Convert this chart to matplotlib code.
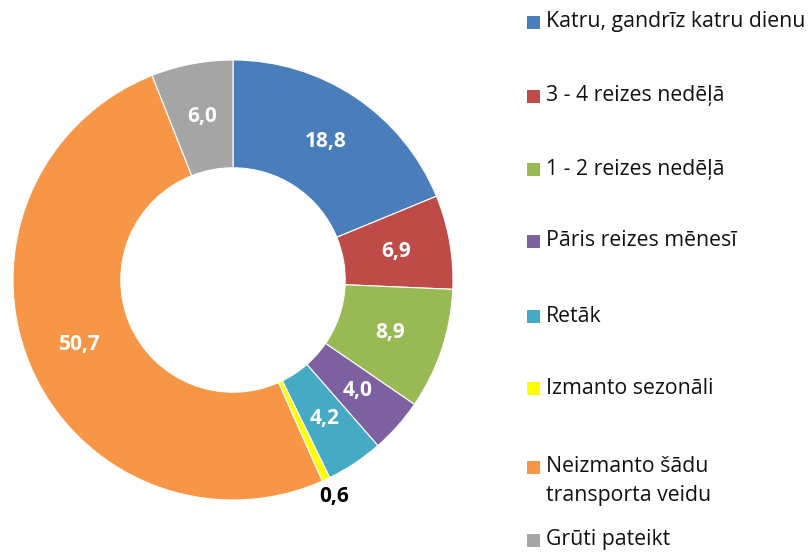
import matplotlib
matplotlib.use("Agg")
import matplotlib.pyplot as plt
from matplotlib.patches import Rectangle
import numpy as np

plt.rcParams['font.family'] = ['Open Sans', 'DejaVu Sans']

categories = ["Katru, gandrīz katru dienu", "3 - 4 reizes nedēļā", "1 - 2 reizes nedēļā",
              "Pāris reizes mēnesī", "Retāk", "Izmanto sezonāli",
              "Neizmanto šādu\ntransporta veidu", "Grūti pateikt"]
values = [18.8, 6.9, 8.9, 4.0, 4.2, 0.6, 50.7, 6.0]
value_labels = ["18,8", "6,9", "8,9", "4,0", "4,2", "0,6", "50,7", "6,0"]
colors = ["#4A7EBB", "#BE4B48", "#98B954", "#7D60A0", "#46AAC5", "#FFFF00", "#F79646", "#A5A5A5"]

W, H = 809, 552
fig = plt.figure(figsize=(W / 100, H / 100), dpi=100)
cx, cy, R = 233, 272, 220
ax = fig.add_axes([(cx - R) / W, (cy - R) / H, 2 * R / W, 2 * R / H])
wedges, _ = ax.pie(values, colors=colors, startangle=90, counterclock=False, radius=1,
                   wedgeprops=dict(width=0.49, edgecolor='white', linewidth=0.8))
ax.set_xlim(-1, 1)
ax.set_ylim(-1, 1)
ax.set_aspect('equal')
ax.axis('off')

for w, lab, v in zip(wedges, value_labels, values):
    ang = np.deg2rad((w.theta1 + w.theta2) / 2)
    if v < 2:
        r = 1.085
        col = 'black'
    else:
        r = 0.755
        col = 'white'
    ax.text(r * np.cos(ang), r * np.sin(ang), lab, ha='center', va='center',
            fontsize=15, fontweight='bold', color=col)

# legend
ys = [22, 96, 169, 241, 316, 388, 467, 540]
for w, lab, y in zip(wedges, categories, ys):
    sq = 13
    fig.patches.append(Rectangle((527 / W, (H - y - sq / 2) / H), sq / W, sq / H,
                                 transform=fig.transFigure, facecolor=w.get_facecolor(),
                                 edgecolor='none'))
    fig.text(546 / W, (H - y) / H, lab.split("\n")[0], ha='left', va='center',
             fontsize=15.3, color='#111111')
    if "\n" in lab:
        fig.text(546 / W, (H - y - 28) / H, lab.split("\n")[1], ha='left', va='center',
                 fontsize=15.3, color='#111111')

fig.savefig("out.png", dpi=100)
